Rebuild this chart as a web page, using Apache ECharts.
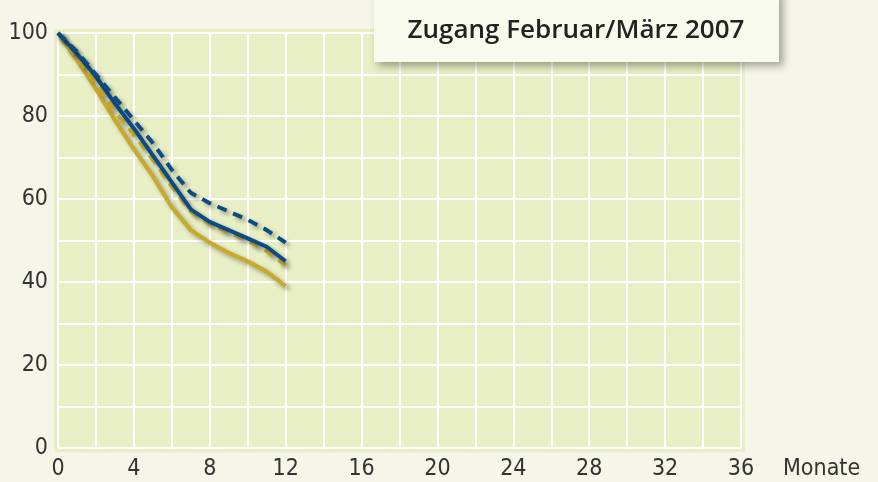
<!DOCTYPE html>
<html><head><meta charset="utf-8">
<script src="https://cdn.jsdelivr.net/npm/echarts@6/dist/echarts.min.js"></script>
<style>html,body{margin:0;padding:0;background:#f5f6e9;}#c{width:878px;height:482px;}</style>
</head><body><div id="c"></div>
<script>
const titleText = 'Zugang Februar/März 2007';
const xName = 'Monate';
const months = [0,1,2,3,4,5,6,7,8,9,10,11,12];
const blueSolid  = [100, 95, 89.5, 83, 77, 70.5, 64, 57.5, 54.5, 52.5, 50.5, 48.5, 45];
const blueDashed = [100, 95.5, 90, 84.5, 79, 73.5, 67, 61.5, 59, 57, 55, 52.5, 49.5];
const goldDashed = [100, 94, 88, 81, 75.5, 69.5, 63, 57, 54, 52, 50, 47.5, 44];
const goldSolid  = [100, 93.5, 86.5, 79, 72, 65.5, 58, 52.5, 49.5, 47, 45, 42.5, 39];

const BLUE = '#0b4c84', GOLD = '#c8a92c';
const labelFont = '"DejaVu Sans Condensed","Liberation Sans Narrow","DejaVu Sans",sans-serif';
function pairs(v){ return months.map((m,i)=>[m,v[i]]); }
function mk(data,color,dashed,z){
  return {type:'line', data:pairs(data), symbol:'none', smooth:false, z:z,
    lineStyle:{color:color, width:4, type: dashed?[10,7]:'solid',
      shadowColor:'rgba(0,0,0,0.35)', shadowBlur:4, shadowOffsetX:3, shadowOffsetY:3}};
}
const lbl = {color:'#333', fontFamily:labelFont, fontSize:23, fontWeight:'condensed'};
const chart = echarts.init(document.getElementById('c'));
chart.setOption({
  backgroundColor:'#f5f6e9',
  animation:false,
  grid:{left:58, right:137, top:33, bottom:34, show:false},
  graphic:[
    {type:'rect', z:-10, shape:{x:54, y:29, width:691, height:423}, style:{fill:'#e8efc4'}},
    {type:'rect', z:10, shape:{x:374, y:-10, width:405, height:72},
      style:{fill:'#f9faee', shadowColor:'rgba(0,0,0,0.35)', shadowBlur:8, shadowOffsetX:4, shadowOffsetY:4}},
    {type:'text', z:11, style:{x:576, y:31, text:titleText, align:'center', verticalAlign:'middle',
      font:'600 26px "Open Sans", sans-serif', fill:'#222'}}
  ],
  xAxis:{type:'value', min:0, max:36, interval:2,
    name:xName, nameLocation:'end', nameGap:42,
    nameTextStyle:Object.assign({}, lbl, {align:'left', verticalAlign:'top', padding:[10,0,0,0]}),
    axisLine:{show:false}, axisTick:{show:false},
    axisLabel:Object.assign({}, lbl, {margin:10, formatter:v=> (v%4===0? String(v):'')}),
    splitLine:{show:true, lineStyle:{color:'#ffffff', width:2}}},
  yAxis:{type:'value', min:0, max:100, interval:10,
    axisLine:{show:false}, axisTick:{show:false},
    axisLabel:Object.assign({}, lbl, {margin:10, formatter:v=> (v%20===0? String(v):'')}),
    splitLine:{show:true, lineStyle:{color:'#ffffff', width:2}}},
  series:[
    mk(goldSolid, GOLD, false, 2),
    mk(goldDashed, GOLD, true, 3),
    mk(blueSolid, BLUE, false, 4),
    mk(blueDashed, BLUE, true, 5)
  ]
});
</script></body></html>
